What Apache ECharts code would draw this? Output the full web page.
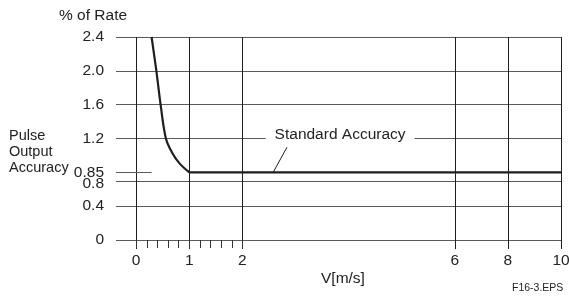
<!DOCTYPE html>
<html>
<head>
<meta charset="utf-8">
<script src="https://cdn.jsdelivr.net/npm/echarts@6/dist/echarts.min.js"></script>
<style>
  html,body{margin:0;padding:0;background:#fff;}
  #echarts_wrap{width:569px;height:297px;}
</style>
</head>
<body>
<div id="echarts_wrap"></div>
<script>
// curve values (V in m/s, accuracy in % of rate)
var curveV=[0.29,0.38,0.46,0.56,0.68,0.82,1.0];
var curveAcc=[2.4,2.0,1.6,1.2,1.05,0.94,0.85];
var flatV=[1.0,10];
var flatAcc=[0.85,0.85];

var xTicks=[0,1,2,6,8,10];
var xTickLabels=['0','1','2','6','8','10'];
var xMinorTicks=[0,0.2,0.4,0.6,0.8,1.0,1.2,1.4,1.6,1.8,2.0];
var yGrid=[0,0.4,0.8,1.2,1.6,2.0,2.4];
var yTicks=[0,0.4,0.8,0.85,1.2,1.6,2.0,2.4];
var yTickLabels=['0','0.4','0.8','0.85','1.2','1.6','2.0','2.4'];

// the figure is not drawn to scale: both axes are warped
var yKnotReal=[0,0.4,0.8,0.85,1.2,2.4];
var yKnotDrawn=[0,0.4,0.69,0.80,1.2,2.4];
var wy=function(v){
  for(var i=1;i<yKnotReal.length;i++){
    if(v<=yKnotReal[i]){
      var t=(v-yKnotReal[i-1])/(yKnotReal[i]-yKnotReal[i-1]);
      return yKnotDrawn[i-1]+t*(yKnotDrawn[i]-yKnotDrawn[i-1]);
    }
  }
  return v;
};
var wx=function(v){
  return v<=6?v:6+(v-6)/2;
};
var pairs=function(xs,ys){
  return xs.map(function(v,i){return [wx(v),wy(ys[i])];});
};
var labelFor=function(drawn,reals,labels,warp){
  for(var i=0;i<reals.length;i++){
    if(Math.abs(warp(reals[i])-drawn)<1e-6) return labels[i];
  }
  return '';
};

var font='Liberation Sans';
var gridGray='#5a5a5a';
var dark='#1e1e1e';

var objEcharts=echarts.init(document.getElementById('echarts_wrap'));
var option={
  animation:false,
  grid:{left:116,right:8,top:37,bottom:57,containLabel:false,outerBoundsMode:'none'},
  xAxis:[
    {
      type:'value',min:-0.38,max:8,
      axisLine:{show:false},
      axisTick:{show:true,inside:false,length:9,customValues:xTicks.map(wx),lineStyle:{color:dark,width:1}},
      splitLine:{show:true,lineStyle:{color:dark,width:1}},
      axisLabel:{
        customValues:xTicks.map(wx),margin:13,
        fontFamily:font,fontSize:15.5,color:'#222',
        formatter:function(v){return labelFor(v,xTicks,xTickLabels,wx);}
      }
    },
    {
      type:'value',min:-0.38,max:8,position:'bottom',
      axisLine:{show:false},
      axisTick:{show:true,inside:false,length:8,customValues:xMinorTicks.map(wx),lineStyle:{color:'#333',width:1}},
      splitLine:{show:false},
      axisLabel:{show:false}
    }
  ],
  yAxis:{
    type:'value',min:0,max:2.4,
    axisLine:{show:false},
    axisTick:{show:false,customValues:yGrid.map(wy)},
    splitLine:{show:true,lineStyle:{color:gridGray,width:1}},
    axisLabel:{
      customValues:yTicks.map(wy),margin:12,
      fontFamily:font,fontSize:15.5,color:'#222',
      formatter:function(v){
        var s=labelFor(v,yTicks,yTickLabels,wy);
        // nudge "0.8" a bit lower so it sits under "0.85"
        return s==='0.8'?'{lo|'+s+'}':s;
      },
      rich:{lo:{fontFamily:font,fontSize:15.5,color:'#222',padding:[4,0,0,0]}}
    }
  },
  series:[
    {
      type:'line',
      data:pairs(curveV,curveAcc),
      smooth:0.35,
      symbol:'none',
      lineStyle:{color:dark,width:2.2},
      z:5
    },
    {
      type:'line',
      data:pairs(flatV,flatAcc),
      symbol:'none',
      lineStyle:{color:dark,width:2.2},
      z:5,
      markLine:{
        silent:true,symbol:'none',label:{show:false},
        data:[
          [{coord:[-0.38,wy(0.85)],lineStyle:{color:gridGray,width:1,type:'solid'}},{coord:[wx(0.29),wy(0.85)]}],
          [{coord:[wx(2.84),wy(1.11)],lineStyle:{color:dark,width:1,type:'solid'}},{coord:[wx(2.58),wy(0.85)]}]
        ]
      },
      markPoint:{
        silent:true,symbol:'rect',symbolSize:0,
        data:[{coord:[wx(3.84),wy(1.25)],value:'Standard Accuracy'}],
        label:{
          show:true,position:'inside',
          formatter:'Standard Accuracy',
          fontFamily:font,fontSize:15.5,color:'#222',
          backgroundColor:'#fff',padding:[2,9,2,9]
        }
      }
    }
  ],
  graphic:[
    {type:'text',left:59,top:8,style:{text:'% of Rate',font:'15.5px "Liberation Sans"',fill:'#222'}},
    {type:'text',left:9,top:128,style:{text:'Pulse\nOutput\nAccuracy',font:'14.5px "Liberation Sans"',lineHeight:15.8,fill:'#222'}},
    {type:'text',left:321,top:271,style:{text:'V[m/s]',font:'15.5px "Liberation Sans"',fill:'#222'}},
    {type:'text',left:512,top:283,style:{text:'F16-3.EPS',font:'10.5px "Liberation Sans"',fill:'#222'}}
  ]
};
objEcharts.setOption(option);
</script>
</body>
</html>
